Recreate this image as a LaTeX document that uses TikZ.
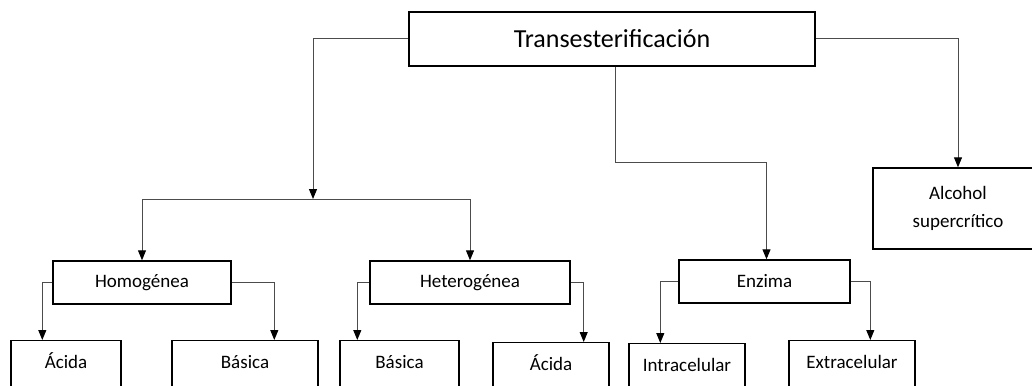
\documentclass[tikz,border=0pt]{standalone}
\usepackage{fontspec}
\setmainfont{Carlito}
\usetikzlibrary{arrows.meta}
\tikzset{
  box/.style={draw=black, line width=1.4pt, inner sep=0pt, align=center,
    font=\fontsize{19}{28}\selectfont},
  topbox/.style={box, font=\fontsize{26}{30}\selectfont},
  botbox/.style={box, anchor=north, text height=13pt, text depth=40pt, inner ysep=15pt, inner xsep=0pt},
  conn/.style={draw=black!70, line width=1pt},
  arr/.style={-{Triangle[width=8pt,length=10pt,black]}}
}
\begin{document}
\begin{tikzpicture}[x=1pt,y=-1pt]
\useasboundingbox (0,0) rectangle (1032,385);
\clip (0,0) rectangle (1032,385);
\fill[white] (0,0) rectangle (1032,385);

% nodes
\node[topbox, minimum width=406pt, minimum height=54pt] (top) at (612,39) {Transesterificación};
\node[box, minimum width=178pt, minimum height=43pt] (homo) at (142,282.5) {Homogénea};
\node[box, minimum width=200pt, minimum height=43pt] (hetero) at (470,282.5) {Heterogénea};
\node[box, minimum width=171pt, minimum height=43pt] (enz) at (764.5,281.5) {Enzima};
\node[box, minimum width=170pt, minimum height=81pt] (alc) at (958,208.5) {Alcohol\\supercrítico};

\node[botbox, minimum width=110pt] (a1) at (66,340) {Ácida};
\node[botbox, minimum width=146pt] (b1) at (245,340) {Básica};
\node[botbox, minimum width=119pt] (b2) at (399.5,340) {Básica};
\node[botbox, minimum width=116pt] (a2) at (551,342) {Ácida};
\node[botbox, minimum width=116pt] (in) at (687,343) {Intracelular};
\node[botbox, minimum width=126pt] (ex) at (852,340) {Extracelular};

% junction below the top box
\coordinate (j1) at (313,199);

% connectors from top box
\draw[conn,arr] (top.west) -| (j1);
\draw[conn] (homo.north |- j1) -- (hetero.north |- j1);
\draw[conn,arr] (homo.north |- j1) -- (homo.north);
\draw[conn,arr] (hetero.north |- j1) -- (hetero.north);
\draw[conn,arr] ([xshift=3pt]top.south) |- ([xshift=2pt,yshift=97pt]enz.north) -- ([xshift=2pt]enz.north);
\draw[conn,arr] (top.east) -| (alc.north);

% second level connectors
\draw[conn,arr] (homo.west) -| ([xshift=32pt]a1.north west);
\draw[conn,arr] (homo.east) -| ([xshift=103pt]b1.north west);
\draw[conn,arr] (hetero.west) -| ([xshift=18pt]b2.north west);
\draw[conn,arr] (hetero.east) -| ([xshift=-26pt]a2.north east);
\draw[conn,arr] (enz.west) -| ([xshift=32pt]in.north west);
\draw[conn,arr] (enz.east) -| ([xshift=82pt]ex.north west);
\end{tikzpicture}
\end{document}
